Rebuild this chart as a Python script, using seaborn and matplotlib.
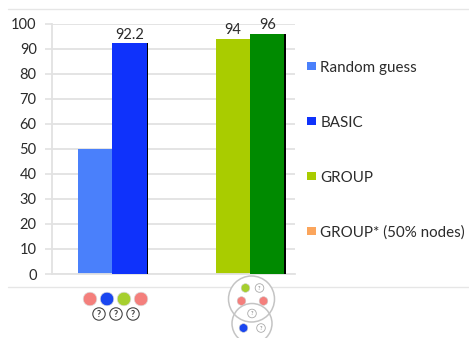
import matplotlib
matplotlib.use("Agg")
import matplotlib.pyplot as plt
import matplotlib.patheffects as pe
from matplotlib.patches import Circle, Rectangle
import pandas as pd
import seaborn as sns

W, H = 469, 338

slots = ["a", "b", "gap1", "gap2", "c", "d"]
bar_slots = ["a", "b", "c", "d"]
values = [50, 92.2, 94, 96]
value_labels = ["", "92.2", "94", "96"]
bar_colors = ["#4a80fb", "#0f32fb", "#a9cc00", "#008a00"]
legend_labels = ["Random guess", "BASIC", "GROUP", "GROUP* (50% nodes)"]
legend_colors = ["#4a80fb", "#0f32fb", "#a9cc00", "#fba55c"]
yticks = list(range(0, 101, 10))

sns.set_theme(style="white")
plt.rcParams["font.family"] = ["Lato", "DejaVu Sans"]
TEXT = "#2b2b2b"
GRID = "#e2e2e2"

fig = plt.figure(figsize=(W / 100, H / 100), dpi=100, facecolor="white")


def px_rect(x0, y0, x1, y1):
    return [x0 / W, 1 - y1 / H, (x1 - x0) / W, (y1 - y0) / H]


# Overlay in pixel units for frame rules and the schematic icons
bg = fig.add_axes([0, 0, 1, 1], zorder=3)
bg.set_xlim(0, W)
bg.set_ylim(H, 0)
bg.axis("off")
bg.patch.set_alpha(0)

ax = fig.add_axes(px_rect(52, 23.5, 295, 274), zorder=2)
ax.patch.set_alpha(0)
df = pd.DataFrame({"slot": bar_slots, "value": values})
sns.barplot(data=df, x="slot", y="value", hue="slot", order=slots, hue_order=bar_slots,
            palette=bar_colors, width=1, dodge=False, legend=False, saturation=1,
            linewidth=0, ax=ax)

slot_w = 34.4
ax.set_xlim(-0.5 - (78 - 52) / slot_w, -0.5 + (295 - 78) / slot_w)
ax.set_ylim(0, 100)
ax.set_xlabel("")
ax.set_ylabel("")
ax.set_xticks([])
ax.set_yticks(yticks)
ax.set_yticklabels([str(t) for t in yticks], fontsize=10.5, color=TEXT)
ax.tick_params(axis="y", length=5, width=1.2, color=GRID, pad=6, left=True)
ax.grid(axis="y", color=GRID, linewidth=1.3)
ax.set_axisbelow(True)
for name, spine in ax.spines.items():
    spine.set_visible(name in ("left", "bottom"))
    spine.set_color(GRID)
    spine.set_linewidth(1.3)

# Look each bar up by its slot so labels and edges land on the right one
by_slot = {}
for patch in ax.patches:
    if patch.get_height() > 0:
        by_slot[slots[round(patch.get_x() + patch.get_width() / 2)]] = patch

# Dark right-hand edge on the taller bar of each group
for slot in ("b", "d"):
    by_slot[slot].set_path_effects([
        pe.SimplePatchShadow(offset=(1.1, 0), shadow_rgbFace="black", alpha=1, rho=1),
        pe.Normal()])
    by_slot[slot].set_zorder(5)

for slot, text in zip(bar_slots, value_labels):
    bar = by_slot[slot]
    if text:
        ax.annotate(text, (bar.get_x() + bar.get_width() / 2, bar.get_height()),
                    xytext=(0, 1), textcoords="offset points", ha="center", va="bottom",
                    fontsize=10.5, color=TEXT)

# Frame rules above and below the plot
bg.plot([8, W], [9, 9], color="#e6e6e6", lw=1, zorder=0)
bg.plot([8, W], [287, 287], color="#e6e6e6", lw=1, zorder=0)

# Legend
for y, label, color in zip([66, 121, 176, 231], legend_labels, legend_colors):
    bg.add_patch(Rectangle((307, y - 4.5), 8.5, 8.5, color=color, lw=0))
    bg.text(320.5, y + 1.8, label, fontsize=10.9, color=TEXT, va="center", ha="left")

# Icon row below the first group
for x, c in zip([90, 107, 124, 141], ["#f47f7c", "#1a46f0", "#a6cf2e", "#f47f7c"]):
    bg.add_patch(Circle((x, 299), 6.8, fc=c, ec="#dddddd", lw=0.5))
for x in [99, 116, 133]:
    bg.add_patch(Circle((x, 314), 6.2, fc="white", ec="#444444", lw=0.8))
    bg.text(x, 314.3, "?", fontsize=6.5, fontweight="bold", color="#333333", ha="center", va="center")

# Overlapping neighbourhood circles below the second group
bg.add_patch(Circle((251.5, 299), 23, fc="white", ec="#c4c4c4", lw=1.1))
bg.add_patch(Circle((252, 323.5), 20, fc="none", ec="#c4c4c4", lw=1.1))
for (x, y, c, r) in [(245.5, 288, "#a6cf2e", 4.3), (241.5, 301, "#f47f7c", 4.3),
                     (263.5, 301, "#f47f7c", 4.3), (243.5, 328, "#1a46f0", 4.3)]:
    bg.add_patch(Circle((x, y), r, fc=c, ec="#cccccc", lw=0.4))
for (x, y) in [(259.5, 288), (252, 313.5), (261, 328)]:
    bg.add_patch(Circle((x, y), 4.3, fc="white", ec="#aaaaaa", lw=0.6))
    bg.text(x, y, "?", fontsize=4, color="#777777", ha="center", va="center")

fig.savefig("out.png", dpi=100)
